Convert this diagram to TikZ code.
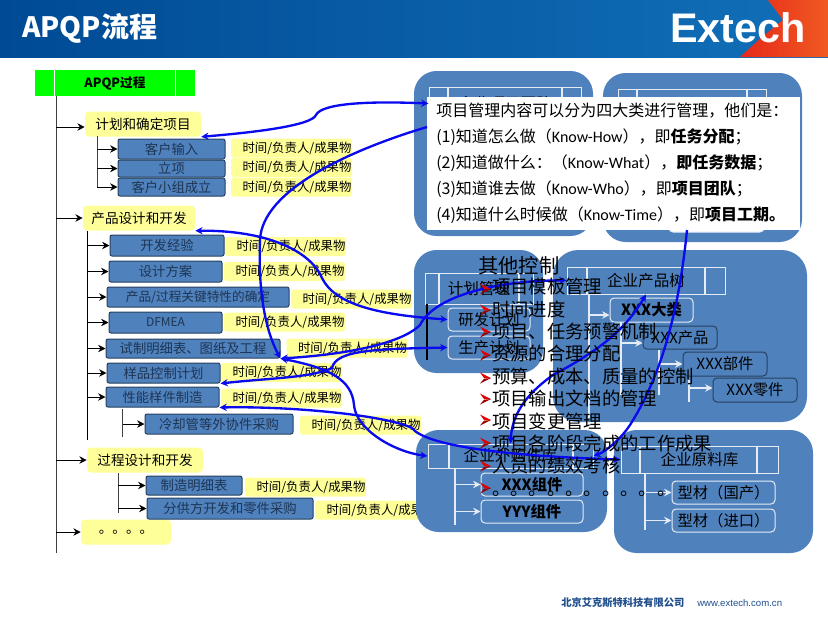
\documentclass[tikz,border=0pt]{standalone}
\usepackage{fontspec}
\usetikzlibrary{arrows.meta}
\setmainfont{Noto Sans CJK SC}
\newfontfamily\latinfont{Carlito}
\newfontfamily\arialfont{Liberation Sans}
\definecolor{panelblue}{HTML}{4F81BD}
\definecolor{stepline}{HTML}{26405F}
\definecolor{steptext}{HTML}{1E3553}
\definecolor{noteyellow}{HTML}{FFFF99}
\definecolor{linkblue}{HTML}{0A0AF0}
\definecolor{footblue}{HTML}{1F4E8C}
\definecolor{bannerleft}{HTML}{004A94}
\definecolor{bannerright}{HTML}{1170B8}
\definecolor{logored}{HTML}{E6281A}
\definecolor{logoorange}{HTML}{F05A22}
\newcommand{\tsize}[1]{\fontsize{#1}{#1}\selectfont}
\newcommand{\kw}[1]{{\latinfont #1}}
\newcommand{\bulmark}[1]{\fill[red!90!black] (480,#1-5.5) -- (491,#1) -- (484,#1) -- cycle; \fill[red!60!black] (480,#1+5.5) -- (491,#1) -- (484,#1+0.7) -- cycle;}

\begin{document}
\begin{tikzpicture}[x=0.75pt,y=-0.75pt,>={Stealth[length=5.5pt,width=5.5pt]},
    wh/.style 2 args={minimum width=#1*0.75pt,minimum height=#2*0.75pt,inner sep=0pt},
    head node/.style={rounded corners=3pt,fill=noteyellow,font=\tsize{10.2}},
    step node/.style={rounded corners=1.5pt,draw=stepline,fill=panelblue,line width=0.75pt,text=steptext,font=\tsize{10}},
    time node/.style={rounded corners=2pt,fill=noteyellow,font=\tsize{9.3},wh={121}{19},text width=90pt,align=right},
    panel node/.style={rounded corners=17pt,fill=panelblue},
    table node/.style={draw=white!85!panelblue,line width=0.75pt,font=\tsize{11.7}},
    pale node/.style={rounded corners=3pt,draw=white!85!panelblue,line width=0.75pt,font=\tsize{11.5}},
    dark node/.style={rounded corners=3pt,draw=stepline,line width=0.75pt,font=\tsize{11.5}},
    pale line/.style={draw=white!85!panelblue,line width=0.9pt},
    pale edge/.style={->,line width=0.9pt,every edge/.style={draw=white!85!panelblue}},
    link/.style={<->,draw=linkblue,line width=1.75pt},
    tree/.style={->,line width=0.75pt}]
    \useasboundingbox (0,0) rectangle (828,621);
    \fill[white] (0,0) rectangle (828,621);

    \shade[left color=bannerleft,right color=bannerright] (0,0) rectangle (828,57);
    \shade[left color=logored,right color=logoorange] (768,0) -- (783,20) -- (762,37) -- (740,57) -- (828,57) -- (828,0) -- cycle;
    \node[text=white,font=\tsize{21}\bfseries,anchor=west,inner sep=0pt] (title) at (22,28) {APQP流程};
    \node[text=white,font=\tsize{31}\arialfont\bfseries,anchor=west,inner sep=0pt] (logo) at (670,28) {Extech};

    \node[fill=green,font=\tsize{9.5}\bfseries,wh={160}{26}] (apqp) at (115,83) {APQP过程};
    \draw[white,line width=0.6pt] (54,70) -- (54,96) (175,70) -- (175,96);

    \coordinate (trunk) at (56,96);
    \coordinate (trunkend) at (56,553);
    \draw[line width=0.75pt,black!75] (trunk) -- (trunkend);

    \node[head node,wh={116}{25}] (plan) at (143,124) {计划和确定项目};
    \node[head node,wh={112}{25}] (prod) at (139,218) {产品设计和开发};
    \node[head node,wh={116}{25}] (proc) at (145,460) {过程设计和开发};
    \node[head node,wh={90}{25}] (more) at (126,532) {。。。。};
    \path[tree]
        (trunk |- 0,127) edge (plan.west |- 0,127)
        (trunk |- prod) edge (prod)
        (trunk |- proc) edge (proc)
        (trunk |- more) edge (more)
    ;

    \node[step node,wh={107}{20}] (cinput) at (171.5,149) {客户输入};
    \node[step node,wh={107}{17}] (setup) at (171.5,168.5) {立项};
    \node[step node,wh={107}{18}] (team) at (171.5,187) {客户小组成立};
    \node[time node] (t1) at (291.5,148) {时间/负责人/成果物};
    \node[time node] (t2) at (291.5,167.5) {时间/负责人/成果物};
    \node[time node] (t3) at (291.5,187) {时间/负责人/成果物};
    \coordinate (pa) at (97,136);
    \coordinate (pb) at (97,187);
    \draw[line width=0.75pt,black!75] (pa) -- (pb);
    \path[tree]
        (pa |- cinput) edge (cinput)
        (pa |- setup) edge (setup)
        (pa |- team) edge (team)
    ;

    \node[step node,wh={114}{21}] (exp) at (167,245.5) {开发经验};
    \node[step node,wh={113}{21}] (scheme) at (165.5,271.5) {设计方案};
    \node[step node,wh={182}{20},font=\tsize{9.5}] (key) at (198,297) {产品/过程关键特性的确定};
    \node[step node,wh={113}{21},font=\tsize{9}] (dfmea) at (165.5,322.5) {DFMEA};
    \node[step node,wh={174}{19}] (tryout) at (193,348.5) {试制明细表、图纸及工程};
    \node[step node,wh={113}{20}] (sample) at (163.5,373) {样品控制计划};
    \node[step node,wh={113}{20}] (proto) at (162.5,397) {性能样件制造};
    \node[step node,wh={148}{20}] (cool) at (219,424) {冷却管等外协件采购};
    \node[time node] (t4) at (285.5,246.5) {时间/负责人/成果物};
    \node[time node] (t5) at (284.5,271.5) {时间/负责人/成果物};
    \node[time node] (t6) at (351.5,299) {时间/负责人/成果物};
    \node[time node] (t7) at (284.5,322) {时间/负责人/成果物};
    \node[time node] (t8) at (347,348) {时间/负责人/成果物};
    \node[time node] (t9) at (281.5,372.5) {时间/负责人/成果物};
    \node[time node] (t10) at (281.5,398) {时间/负责人/成果物};
    \node[time node] (t11) at (360.5,425) {时间/负责人/成果物};
    \coordinate (qa) at (87.5,231);
    \coordinate (qb) at (87.5,440);
    \draw[line width=0.9pt] (qa) -- (qb);
    \path[tree]
        (qa |- exp) edge (exp)
        (qa |- scheme) edge (scheme)
        (qa |- key) edge (key)
        (qa |- dfmea) edge (dfmea)
        (qa |- tryout) edge (tryout)
        (qa |- sample) edge (sample)
        (qa |- proto) edge (proto)
    ;
    \coordinate (ra) at (122.5,409);
    \coordinate (rb) at (122.5,437);
    \draw[line width=0.75pt,black!75] (ra) -- (rb);
    \path[tree] (ra |- cool) edge (cool);

    \node[step node,wh={96}{19}] (bom) at (194,485.5) {制造明细表};
    \node[step node,wh={166}{21}] (supply) at (230,508.5) {分供方开发和零件采购};
    \node[time node] (t12) at (305.5,487) {时间/负责人/成果物};
    \node[time node] (t13) at (375.5,510) {时间/负责人/成果物};
    \coordinate (sa) at (118,473);
    \coordinate (sb) at (118,513);
    \draw[line width=0.75pt,black!75] (sa) -- (sb);
    \path[tree]
        (sa |- bom) edge (bom)
        (sa |- supply) edge (supply)
    ;

    \node[panel node,wh={179}{165}] (teambg) at (503.5,153.5) {};
    \node[panel node,wh={199}{169}] (taskbg) at (702.5,157.5) {};
    \node[table node,wh={152}{33}] (teamtab) at (505,103.5) {企业项目团队};
    \draw[pale line] (448,0 |- teamtab.north) -- (448,0 |- teamtab.south) (562,0 |- teamtab.north) -- (562,0 |- teamtab.south);
    \node[table node,wh={148}{26}] (tasktab) at (692,102) {};
    \draw[pale line] (637,0 |- tasktab.north) -- (637,0 |- tasktab.south) (747,0 |- tasktab.north) -- (747,0 |- tasktab.south);
    \node[pale node,fill=white,wh={95}{16}] (hidden) at (716.5,224) {};
    \node[fill=white,wh={373}{133}] (memo) at (613.5,163.5) {};
    \node[anchor=north west,inner sep=0pt,align=left,font=\tsize{12},execute at begin node={\setlength{\baselineskip}{19.5pt}}] (memotext) at (436,103) {项目管理内容可以分为四大类进行管理，他们是：\\
        (1)知道怎么做（\kw{Know-How}），即\textbf{任务分配}；\\
        (2)知道做什么：（\kw{Know-What}），\textbf{即任务数据}；\\
        (3)知道谁去做（\kw{Know-Who}），即\textbf{项目团队}；\\
        (4)知道什么时候做（\kw{Know-Time}），即\textbf{项目工期。}};
    \coordinate (memoin) at (427,127);
    \coordinate (memoout) at (687,230);

    \node[panel node,wh={129}{123}] (planbg) at (478.5,311.5) {};
    \node[table node,wh={108}{31}] (plantab) at (479,288.5) {计划管理};
    \draw[pale line] (439,0 |- plantab.north) -- (439,0 |- plantab.south) (519,0 |- plantab.north) -- (519,0 |- plantab.south);
    \coordinate (ua) at (427,304);
    \coordinate (ub) at (427,360);
    \draw[line width=0.9pt] (ua) -- (ub);
    \node[pale node,wh={82}{23},align=left] (rdplan) at (489,319.5) {研发计划};
    \node[pale node,wh={82}{23},align=left] (mfgplan) at (489,347.5) {生产计划};

    \node[panel node,wh={254}{172},rounded corners=19pt] (treebg) at (680,336) {};
    \node[table node,wh={158}{27}] (prodtab) at (646,280.5) {企业产品树};
    \draw[pale line] (587,0 |- prodtab.north) -- (587,0 |- prodtab.south) (705,0 |- prodtab.north) -- (705,0 |- prodtab.south);
    \node[pale node,wh={83}{24},font=\tsize{11.5}\bfseries] (big) at (651.5,310) {XXX大类};
    \node[dark node,wh={74}{23}] (prdt) at (680,337.5) {XXX产品};
    \node[dark node,wh={84}{24}] (part) at (725,364) {XXX部件};
    \node[dark node,wh={84}{24}] (piece) at (755,390) {XXX零件};
    \coordinate (va) at (589,294);
    \coordinate (vb) at (589,418);
    \coordinate (vc) at (621,322);
    \coordinate (vd) at (621,395);
    \coordinate (ve) at (659,350);
    \coordinate (vf) at (659,395);
    \coordinate (vg) at (689,380);
    \coordinate (vh) at (689,402);
    \draw[pale line] (va) -- (vb) (vc) -- (vd) (ve) -- (vf) (vg) -- (vh);
    \path[pale edge]
        (va |- 0,315) edge (big.west |- 0,315)
        (vc |- 0,343) edge (prdt.west |- 0,343)
        (ve |- part) edge (part)
        (vg |- 0,388) edge (piece.west |- 0,388)
    ;

    \node[panel node,wh={191}{102}] (buybg) at (511.5,481) {};
    \node[table node,wh={165}{24}] (buytab) at (510.5,456) {企业外购件库};
    \draw[pale line] (449,0 |- buytab.north) -- (449,0 |- buytab.south) (573,0 |- buytab.north) -- (573,0 |- buytab.south);
    \node[pale node,wh={102}{23},font=\tsize{11.5}\bfseries] (xxx) at (532,484.5) {XXX组件};
    \node[pale node,wh={102}{23},font=\tsize{11.5}\bfseries] (yyy) at (532,511.5) {YYY组件};
    \coordinate (wa) at (455,468);
    \coordinate (wb) at (455,525);
    \draw[pale line] (wa) -- (wb);
    \path[pale edge]
        (wa |- xxx) edge (xxx)
        (wa |- yyy) edge (yyy)
    ;

    \node[panel node,wh={199}{123}] (rawbg) at (713.5,491.5) {};
    \node[table node,wh={157}{27}] (rawtab) at (699.5,459.5) {企业原料库};
    \draw[pale line] (640,0 |- rawtab.north) -- (640,0 |- rawtab.south) (757,0 |- rawtab.north) -- (757,0 |- rawtab.south);
    \node[pale node,wh={103}{23}] (home) at (723.5,492.5) {型材（国产）};
    \node[pale node,wh={103}{23}] (import) at (723.5,520.5) {型材（进口）};
    \coordinate (xa) at (645,473);
    \coordinate (xb) at (645,530);
    \draw[pale line] (xa) -- (xb);
    \path[pale edge]
        (xa |- home) edge (home)
        (xa |- import) edge (import)
    ;

    \draw[link] (teamtab.west) .. controls (370,101) and (322,103) .. (316,115) .. controls (312,125) and (260,132) .. (plan.south east);
    \draw[link,->] (memoin) .. controls (350,150) and (262,190) .. (260,240) .. controls (258,290) and (265,330) .. (tryout.south east);
    \draw[link] (prod.south east) .. controls (265,230) and (310,250) .. (322,278) .. controls (335,305) and (380,315) .. (rdplan.west);
    \draw[link] (tryout.south east) .. controls (340,355) and (400,345) .. (420,325) .. controls (435,295) and (500,280) .. (prodtab.west);
    \draw[link] (sample.south east) .. controls (270,378) and (310,378) .. (332,368) .. controls (336,350) and (375,349) .. (mfgplan.west);
    \draw[link] (tryout.south east) .. controls (330,368) and (352,380) .. (354,405) .. controls (356,430) and (395,452) .. (buytab.west);
    \draw[link] (proto.south east) .. controls (290,406) and (385,415) .. (412,428) .. controls (425,445) and (500,456) .. (rawtab.west);
    \draw[link,->] (memoout) .. controls (680,300) and (665,370) .. (630,425) .. controls (620,440) and (605,452) .. (buytab.east);
    \draw[link] (buytab.north) .. controls (512,415) and (525,395) .. (553,375) .. controls (600,350) and (625,330) .. (prodtab.south);

    \bulmark{289} \bulmark{310} \bulmark{332} \bulmark{355} \bulmark{378}
    \bulmark{399} \bulmark{420} \bulmark{443} \bulmark{466} \bulmark{488}
    \node[anchor=west,inner sep=0pt,font=\tsize{15.2}] (ctrlhead) at (478,266) {其他控制};
    \node[anchor=north west,inner sep=0pt,align=left,font=\tsize{13.75},execute at begin node={\setlength{\baselineskip}{16.8pt}}] (ctrllist) at (492,278) {项目模板管理\\
        时间进度\\
        项目、任务预警机制\\
        资源的合理分配\\
        预算、成本、质量的控制\\
        项目输出文档的管理\\
        项目变更管理\\
        项目各阶段完成的工作成果\\
        人员的绩效考核\\
        。。。。。。。。。。};

    \node[anchor=west,inner sep=0pt,text=footblue,font=\tsize{7.7}\bfseries] (firm) at (561,603) {北京艾克斯特科技有限公司};
    \node[anchor=west,inner sep=0pt,text=footblue,font=\tsize{7.2}\arialfont] (site) at (697,603) {www.extech.com.cn};
\end{tikzpicture}
\end{document}
